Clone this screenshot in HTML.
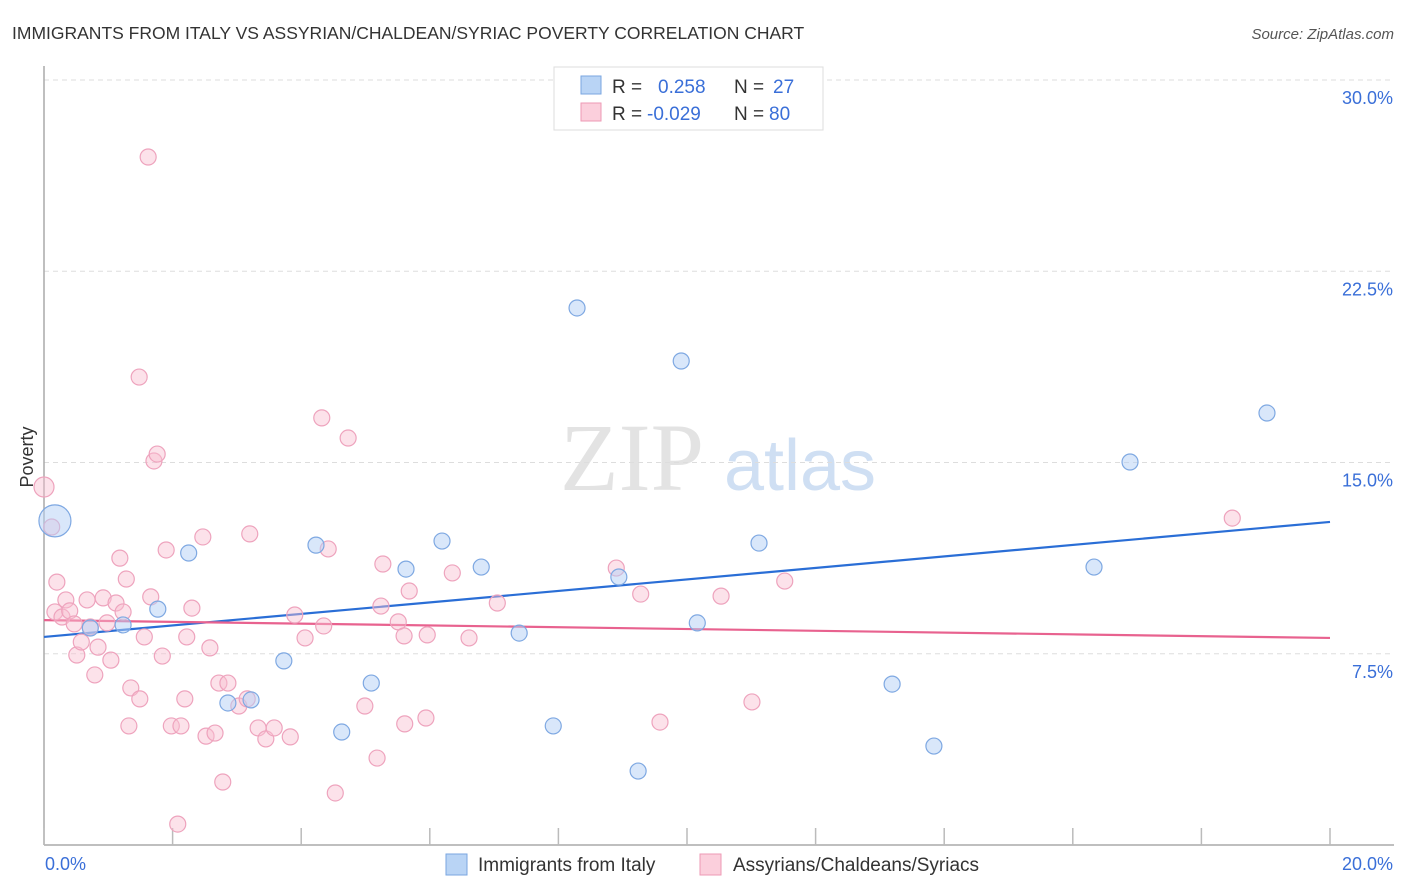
<!DOCTYPE html>
<html><head><meta charset="utf-8"><style>
body{margin:0;background:#fff;font-family:"Liberation Sans",sans-serif;}
svg{display:block}
</style></head><body>
<svg id="chart" width="1406" height="892" xmlns="http://www.w3.org/2000/svg">
<text x="12" y="39" font-size="17.5" fill="#333">IMMIGRANTS FROM ITALY VS ASSYRIAN/CHALDEAN/SYRIAC POVERTY CORRELATION CHART</text>
<text x="1394" y="39" font-size="15" fill="#555" font-style="italic" text-anchor="end">Source: ZipAtlas.com</text>
<g>
<text x="632" y="490" font-size="96" fill="#e3e3e3" font-family="Liberation Serif,serif" text-anchor="middle">ZIP</text>
<text x="800" y="490" font-size="72" fill="#cfdff3" text-anchor="middle">atlas</text>
</g>
<g id="grid"></g>
<g id="axes"></g>
<text transform="translate(33,457) rotate(-90)" font-size="18" fill="#333" text-anchor="middle">Poverty</text>
<g id="trends"></g>
<g id="pts"></g>
<g>
<rect x="554" y="67" width="269" height="63" fill="#fff" stroke="#ddd"/>
<rect x="581" y="76" width="20" height="18" fill="#b9d4f5" stroke="#7aa6e0"/>
<rect x="581" y="103" width="20" height="18" fill="#fbcfdc" stroke="#ee9ab5"/>
<text x="612" y="93" font-size="19" fill="#333">R = </text>
<text x="658" y="93" font-size="19" fill="#3a6fd8">0.258</text>
<text x="734" y="93" font-size="19" fill="#333">N = </text>
<text x="773" y="93" font-size="19" fill="#3a6fd8">27</text>
<text x="612" y="120" font-size="19" fill="#333">R = </text>
<text x="647" y="120" font-size="19" fill="#3a6fd8">-0.029</text>
<text x="734" y="120" font-size="19" fill="#333">N = </text>
<text x="769" y="120" font-size="19" fill="#3a6fd8">80</text>
</g>
<g>
<rect x="446" y="854" width="21" height="21" fill="#b9d4f5" stroke="#7aa6e0"/>
<text x="478" y="871" font-size="19" fill="#333">Immigrants from Italy</text>
<rect x="700" y="854" width="21" height="21" fill="#fbcfdc" stroke="#ee9ab5"/>
<text x="733" y="871" font-size="19" fill="#333">Assyrians/Chaldeans/Syriacs</text>
</g>
</svg>
<script>
const yTicks=[7.5,15,22.5,30];
const yTickLabels=["7.5%","15.0%","22.5%","30.0%"];
const xEndLabels=["0.0%","20.0%"];
const italyX=[0.17,0.72,1.23,1.77,2.25,2.86,3.22,3.73,4.23,4.63,5.09,5.63,6.19,6.80,7.39,7.92,8.29,8.94,9.24,9.91,10.16,11.12,13.19,13.84,16.33,16.89,19.02];
const italyY=[12.71,8.51,8.63,9.25,11.45,5.57,5.69,7.22,11.76,4.43,6.35,10.82,11.92,10.90,8.31,4.67,21.06,10.51,2.90,18.98,8.71,11.84,6.31,3.88,10.90,15.02,16.94];
const assyX=[0.00,0.12,0.20,0.17,0.28,0.34,0.40,0.47,0.51,0.58,0.67,0.72,0.79,0.84,0.92,0.98,1.04,1.12,1.18,1.23,1.28,1.32,1.35,1.48,1.49,1.56,1.62,1.66,1.71,1.76,1.84,1.90,1.98,2.08,2.13,2.19,2.22,2.30,2.47,2.52,2.58,2.66,2.72,2.78,2.86,3.03,3.16,3.20,3.33,3.45,3.58,3.83,3.90,4.06,4.32,4.35,4.42,4.53,4.73,4.99,5.18,5.27,5.24,5.51,5.60,5.61,5.68,5.94,5.96,6.35,6.61,7.05,8.90,9.28,9.58,10.53,11.01,11.52,18.48];
const assyY=[14.04,12.47,10.31,9.14,8.94,9.61,9.18,8.67,7.45,7.96,9.61,8.55,6.67,7.76,9.69,8.71,7.25,9.49,11.25,9.14,10.43,4.67,6.16,18.35,5.73,8.16,26.98,9.73,15.06,15.33,7.41,11.57,4.67,0.82,4.67,5.73,8.16,9.29,12.08,4.27,7.73,4.39,6.35,2.47,6.35,5.45,5.73,12.20,4.59,4.16,4.59,4.24,9.02,8.12,16.75,8.59,11.61,2.04,15.96,5.45,3.41,11.02,9.37,8.75,8.20,4.75,9.96,4.98,8.24,10.67,8.12,9.49,10.86,9.84,4.82,9.76,5.61,10.35,12.82];
const italyTrend=[8.16,12.67];
const assyTrend=[8.82,8.12];
const NS="http://www.w3.org/2000/svg";
const X0=44,X1=1330,Y0=845,PPU=25.5;
function sx(v){return X0+(X1-X0)*v/20;}
function sy(v){return Y0-v*PPU;}
function mk(tag,attrs,parent){const e=document.createElementNS(NS,tag);for(const k in attrs)e.setAttribute(k,attrs[k]);parent.appendChild(e);return e;}
const grid=document.getElementById('grid'),axes=document.getElementById('axes');
yTicks.forEach((t,i)=>{
 const l=mk('line',{x1:X0,x2:1394,y1:sy(t),y2:sy(t),stroke:'#ddd','stroke-dasharray':'5,4'},grid);
 
 
 const tx=mk('text',{x:1393,y:sy(t)+24,'font-size':18,fill:'#3a6fd8','text-anchor':'end'},axes);
 tx.textContent=yTickLabels[i];
 
 
});
const ya=mk('line',{x1:X0,x2:X0,y1:66,y2:Y0,stroke:'#aaa','stroke-width':1.5},axes);


const xa=mk('line',{x1:X0,x2:1394,y1:Y0,y2:Y0,stroke:'#aaa','stroke-width':1.5},axes);


for(let v=0;v<=20;v+=2){
 const tk=mk('line',{x1:sx(v),x2:sx(v),y1:828,y2:Y0,stroke:'#bbb','stroke-width':1.5},axes);
 
 
}
const xl0=mk('text',{x:45,y:870,'font-size':18,fill:'#3a6fd8'},axes);
xl0.textContent=xEndLabels[0];


const xl1=mk('text',{x:1393,y:870,'font-size':18,fill:'#3a6fd8','text-anchor':'end'},axes);
xl1.textContent=xEndLabels[1];


const pts=document.getElementById('pts');
assyX.forEach((x,i)=>{
 const c=mk('circle',{cx:sx(x),cy:sy(assyY[i]),r:i===0?10:8,fill:'rgba(248,190,208,0.45)',stroke:'#eea3bd','stroke-width':1.2},pts);
 
 
});
italyX.forEach((x,i)=>{
 const c=mk('circle',{cx:sx(x),cy:sy(italyY[i]),r:i===0?16:8,fill:'rgba(180,208,245,0.5)',stroke:'#7ea8e2','stroke-width':1.2},pts);
 
 
});
const tr=document.getElementById('trends');
const t1=mk('line',{x1:sx(0),y1:sy(italyTrend[0]),x2:sx(20),y2:sy(italyTrend[1]),stroke:'#2a6ed6','stroke-width':2.2},tr);


const t2=mk('line',{x1:sx(0),y1:sy(assyTrend[0]),x2:sx(20),y2:sy(assyTrend[1]),stroke:'#e8628f','stroke-width':2.2},tr);


</script>
</body></html>
